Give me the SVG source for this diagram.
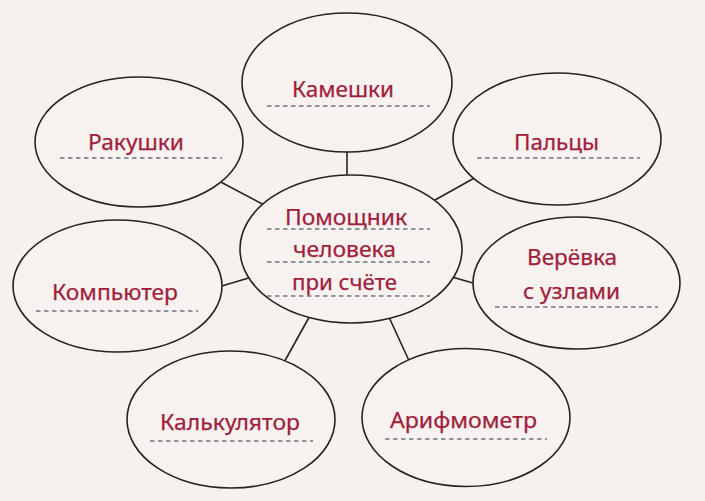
<svg xmlns="http://www.w3.org/2000/svg" width="705" height="501" viewBox="0 0 705 501">
<style>
.bg{fill:#f6f0ef}
.node ellipse{fill:#f7f1f0;stroke:#2a2020;stroke-width:1.6}
.node text{font-family:"Noto Sans","Open Sans","DejaVu Sans",sans-serif;font-size:21px;fill:#a01f3c;stroke:#a01f3c;stroke-width:0.25}
.dash{stroke:#2a3846;stroke-width:1.2;stroke-dasharray:4.5 3.5;fill:none}
.conn line{stroke:#2a2020;stroke-width:1.6}
</style>
<rect class="bg" x="0" y="0" width="705" height="501"/>
<g id="connectors" class="conn">
<line x1="347" y1="140" x2="347" y2="185"/>
<line x1="215" y1="179" x2="268" y2="207"/>
<line x1="478" y1="176" x2="426" y2="205"/>
<line x1="215" y1="288" x2="252" y2="277"/>
<line x1="445" y1="275" x2="480" y2="285"/>
<line x1="282" y1="366" x2="312" y2="312"/>
<line x1="411" y1="365" x2="388" y2="315"/>
</g>
<g id="n-kameshki" class="node">
<ellipse cx="347" cy="82.5" rx="105" ry="69.5"/>
<text x="292" y="97" textLength="102" lengthAdjust="spacingAndGlyphs">Камешки</text>
<line class="dash" x1="267" y1="106" x2="430" y2="106"/>
</g>
<g id="n-rakushki" class="node">
<ellipse cx="139" cy="142" rx="104" ry="65"/>
<text x="88" y="150" textLength="96" lengthAdjust="spacingAndGlyphs">Ракушки</text>
<line class="dash" x1="60" y1="158" x2="222" y2="158"/>
</g>
<g id="n-paltsy" class="node">
<ellipse cx="557" cy="139" rx="104" ry="66"/>
<text x="514" y="150" textLength="85" lengthAdjust="spacingAndGlyphs">Пальцы</text>
<line class="dash" x1="477" y1="158" x2="640" y2="158"/>
</g>
<g id="n-center" class="node">
<ellipse cx="351" cy="249" rx="111" ry="74"/>
<text x="285" y="225" textLength="122" lengthAdjust="spacingAndGlyphs">Помощник</text>
<line class="dash" x1="267" y1="229" x2="430" y2="229"/>
<text x="293" y="257" textLength="103" lengthAdjust="spacingAndGlyphs">человека</text>
<line class="dash" x1="267" y1="262" x2="430" y2="262"/>
<text x="292" y="290" textLength="105" lengthAdjust="spacingAndGlyphs">при счёте</text>
<line class="dash" x1="267" y1="296" x2="430" y2="296"/>
</g>
<g id="n-kompyuter" class="node">
<ellipse cx="117.5" cy="286" rx="104.5" ry="66"/>
<text x="52" y="300" textLength="126" lengthAdjust="spacingAndGlyphs">Компьютер</text>
<line class="dash" x1="36" y1="311" x2="198" y2="311"/>
</g>
<g id="n-verevka" class="node">
<ellipse cx="576.5" cy="283" rx="103.5" ry="66"/>
<text x="527" y="265" textLength="90" lengthAdjust="spacingAndGlyphs">Верёвка</text>
<text x="523" y="299" textLength="97" lengthAdjust="spacingAndGlyphs">с узлами</text>
<line class="dash" x1="495" y1="307" x2="658" y2="307"/>
</g>
<g id="n-kalkulyator" class="node">
<ellipse cx="231" cy="419.5" rx="104" ry="68.5"/>
<text x="160" y="430" textLength="140" lengthAdjust="spacingAndGlyphs">Калькулятор</text>
<line class="dash" x1="150" y1="441" x2="313" y2="441"/>
</g>
<g id="n-arifmometr" class="node">
<ellipse cx="466" cy="417.5" rx="104" ry="69"/>
<text x="390" y="428" textLength="147" lengthAdjust="spacingAndGlyphs">Арифмометр</text>
<line class="dash" x1="385" y1="439" x2="547" y2="439"/>
</g>
</svg>
